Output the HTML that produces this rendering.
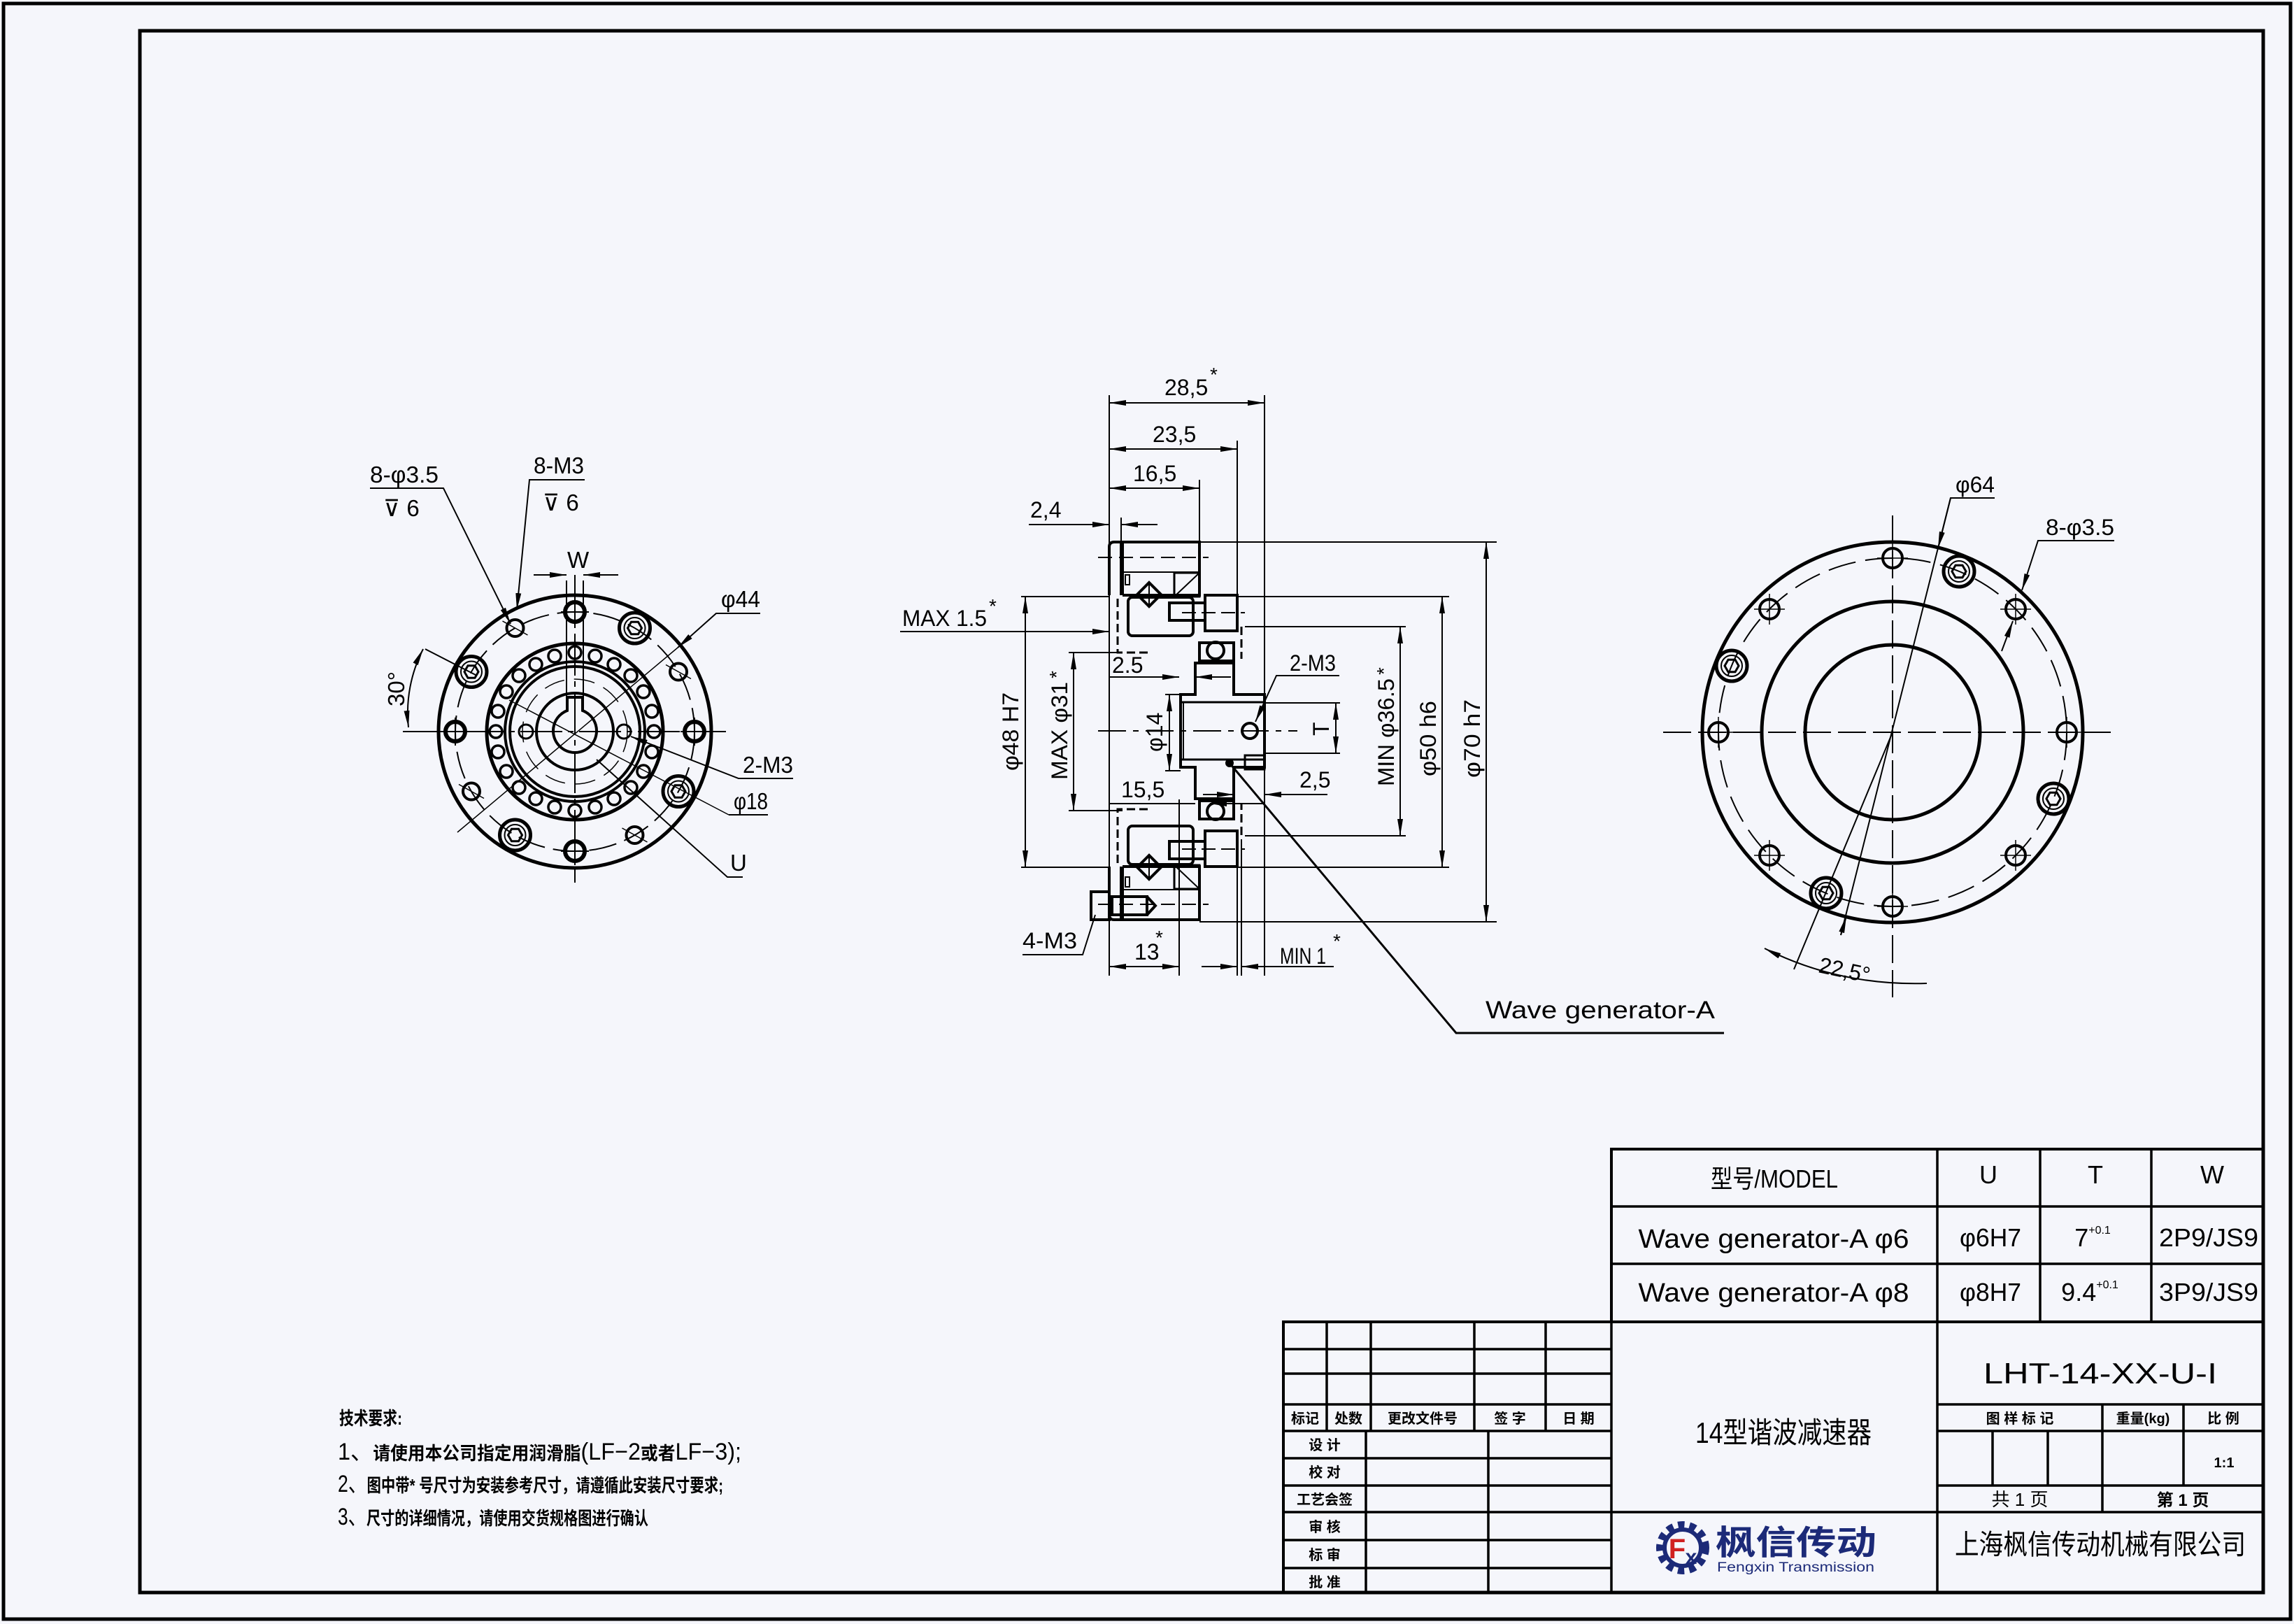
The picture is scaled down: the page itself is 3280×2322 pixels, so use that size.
<!DOCTYPE html>
<html><head><meta charset="utf-8"><style>
html,body{margin:0;padding:0;background:#f5f6fb;}
svg{display:block;}
text{font-family:"Liberation Sans Narrow","Liberation Sans","Noto Sans CJK SC",sans-serif;fill:#000;}
.cj{font-family:"Liberation Sans","Noto Sans CJK SC",sans-serif;}
</style></head><body>
<svg width="3280" height="2322" viewBox="0 0 3280 2322" xmlns="http://www.w3.org/2000/svg">
<defs>
<marker id="ar" viewBox="0 0 24 8" refX="24" refY="4" markerWidth="24" markerHeight="8" markerUnits="userSpaceOnUse" orient="auto-start-reverse"><path d="M0,0 L24,4 L0,8 z" fill="#000"/></marker>
<g id="thk"><circle r="14" fill="none" stroke="#000" stroke-width="6"/><line x1="-20" y1="0" x2="20" y2="0" stroke="#000" stroke-width="2"/><line x1="0" y1="-20" x2="0" y2="20" stroke="#000" stroke-width="2"/></g>
<g id="thn"><circle r="12" fill="none" stroke="#000" stroke-width="4"/><line x1="-18" y1="-10" x2="18" y2="10" stroke="#000" stroke-width="1.5"/></g>
<g id="hx"><circle r="22" fill="none" stroke="#000" stroke-width="5"/><circle r="15" fill="none" stroke="#000" stroke-width="2"/><polygon points="10,0 5,8.7 -5,8.7 -10,0 -5,-8.7 5,-8.7" fill="none" stroke="#000" stroke-width="3"/></g>
<g id="pl"><circle r="14" fill="none" stroke="#000" stroke-width="4"/><line x1="-22" y1="0" x2="22" y2="0" stroke="#000" stroke-width="1.5"/><line x1="0" y1="-22" x2="0" y2="22" stroke="#000" stroke-width="1.5"/></g>
</defs>
<rect width="3280" height="2322" fill="#f5f6fb"/>
<!-- frames -->
<rect x="5" y="5" width="3270" height="2310" fill="none" stroke="#000" stroke-width="5"/>
<rect x="200" y="44" width="3036" height="2233" fill="none" stroke="#000" stroke-width="5"/>

<!-- ========== LEFT VIEW ========== -->
<g stroke="#000" fill="none">
<circle cx="822" cy="1046" r="195" stroke-width="5"/>
<circle cx="822" cy="1046" r="171" stroke-width="2" stroke-dasharray="40 12"/>
<circle cx="822" cy="1046" r="126" stroke-width="5"/>
<circle cx="822" cy="1046" r="100" stroke-width="4"/>
<circle cx="822" cy="1046" r="93" stroke-width="4"/>
<circle cx="822" cy="1046" r="55" stroke-width="4"/>
<circle cx="822" cy="1046" r="75" stroke-width="1.5" stroke-dasharray="30 14"/>
<path d="M811,1016 L811,997 L833,997 L833,1016 A31,31 0 1 1 811,1016 Z" stroke-width="4"/>
<circle cx="752" cy="1046" r="10" stroke-width="3"/><circle cx="892" cy="1046" r="10" stroke-width="3"/>
<line x1="576" y1="1046" x2="1038" y2="1046" stroke-width="2" stroke-dasharray="60 8 8 8"/>
<line x1="822" y1="822" x2="822" y2="1262" stroke-width="2" stroke-dasharray="60 8 8 8"/>
<line x1="810" y1="830" x2="810" y2="1000" stroke-width="2"/><line x1="834" y1="830" x2="834" y2="1000" stroke-width="2"/>
<line x1="654" y1="1190" x2="969" y2="926" stroke-width="1.5"/>
<line x1="728" y1="1001" x2="1042" y2="1165" stroke-width="1.5"/>
</g>
<g stroke="#000" stroke-width="3.5" fill="none">
<circle cx="822" cy="933" r="9"/><circle cx="851" cy="938" r="9"/><circle cx="878" cy="950" r="9"/><circle cx="902" cy="966" r="9"/><circle cx="920" cy="989" r="9"/><circle cx="932" cy="1017" r="9"/><circle cx="935" cy="1046" r="9"/><circle cx="932" cy="1075" r="9"/><circle cx="920" cy="1103" r="9"/><circle cx="902" cy="1126" r="9"/><circle cx="878" cy="1142" r="9"/><circle cx="851" cy="1154" r="9"/><circle cx="822" cy="1159" r="9"/><circle cx="793" cy="1154" r="9"/><circle cx="766" cy="1142" r="9"/><circle cx="742" cy="1126" r="9"/><circle cx="724" cy="1103" r="9"/><circle cx="712" cy="1075" r="9"/><circle cx="709" cy="1046" r="9"/><circle cx="712" cy="1017" r="9"/><circle cx="724" cy="989" r="9"/><circle cx="742" cy="966" r="9"/><circle cx="766" cy="950" r="9"/><circle cx="793" cy="938" r="9"/>
</g>
<use href="#thk" x="822" y="875"/><use href="#hx" x="907.5" y="898"/><use href="#thn" x="970" y="960.5"/>
<use href="#thk" x="993" y="1046"/><use href="#hx" x="970" y="1131.5"/><use href="#thn" x="907.5" y="1194"/>
<use href="#thk" x="822" y="1217"/><use href="#hx" x="736.5" y="1194"/><use href="#thn" x="674" y="1131.5"/>
<use href="#thk" x="651" y="1046"/><use href="#hx" x="674" y="960.5"/><use href="#thn" x="736.5" y="898"/>
<!-- left view labels -->
<g stroke="#000" stroke-width="2" fill="none">
<polyline points="529,698 634,698 730,892" marker-end="url(#ar)"/>
<polyline points="836,686 757,686 739,872" marker-end="url(#ar)"/>
<line x1="763" y1="822" x2="810" y2="822" marker-end="url(#ar)"/><line x1="884" y1="822" x2="834" y2="822" marker-end="url(#ar)"/>
<polyline points="1087,877 1024,877 969,926" marker-end="url(#ar)"/>
<polyline points="1134,1113 1056,1113 902,1053" marker-end="url(#ar)"/>
<polyline points="1098,1165 1042,1165"/>
<polyline points="1062,1254 1040,1254 853,1086"/>
<path d="M605,928 A200,200 0 0 0 584,1040" marker-start="url(#ar)" marker-end="url(#ar)"/>
<line x1="608" y1="928" x2="680" y2="965"/>
</g>
<g font-size="33">
<text x="529" y="690" textLength="98" lengthAdjust="spacingAndGlyphs">8-φ3.5</text>
<text x="548" y="738">⊽ 6</text>
<text x="763" y="677" textLength="72" lengthAdjust="spacingAndGlyphs">8-M3</text>
<text x="776" y="730">⊽ 6</text>
<text x="811" y="812">W</text>
<text x="1031" y="868" textLength="56" lengthAdjust="spacingAndGlyphs">φ44</text>
<text x="1062" y="1105" textLength="72" lengthAdjust="spacingAndGlyphs">2-M3</text>
<text x="1049" y="1157" textLength="49" lengthAdjust="spacingAndGlyphs">φ18</text>
<text x="1044" y="1245">U</text>
<text transform="translate(578,1010) rotate(-90)">30°</text>
</g>

<!-- ========== MIDDLE VIEW ========== -->
<g id="half" stroke="#000" stroke-width="4" fill="none">
<path d="M1586,851 L1586,782 Q1586,775 1593,775 L1603,775 L1603,851"/>
<path d="M1605,851 L1605,775 L1715,775 L1715,851 L1605,851"/>
<line x1="1605" y1="818" x2="1715" y2="818" stroke-width="2"/>
<line x1="1570" y1="797" x2="1728" y2="797" stroke-width="2" stroke-dasharray="20 10"/>
<rect x="1613" y="854" width="93" height="55" rx="6"/>
<rect x="1672" y="862" width="51" height="25"/>
<rect x="1723" y="851" width="46" height="51"/>
<polygon points="1643,833 1660,850 1643,867 1626,850"/>
<line x1="1643" y1="833" x2="1643" y2="867" stroke-width="2"/><line x1="1626" y1="850" x2="1660" y2="850" stroke-width="2"/>
<rect x="1679" y="819" width="36" height="34" stroke-width="3"/><line x1="1679" y1="853" x2="1715" y2="819" stroke-width="2"/>
<rect x="1609" y="822" width="6" height="14" stroke-width="2"/>
<rect x="1715" y="919" width="49" height="26"/><circle cx="1738" cy="930" r="12"/>
<path d="M1688,1045 L1688,993 L1709,993 L1709,948 L1764,948 L1764,993 L1808,993 L1808,1045"/>
<line x1="1688" y1="1004" x2="1808" y2="1004" stroke-width="3"/>
<line x1="1692" y1="1004" x2="1692" y2="1045" stroke-width="2"/>
<path d="M1598,856 L1598,933 L1643,933" stroke-width="3" stroke-dasharray="12 6"/>
<line x1="1775" y1="896" x2="1775" y2="942" stroke-width="3" stroke-dasharray="12 6"/>
<line x1="1690" y1="876" x2="1780" y2="876" stroke-width="2" stroke-dasharray="20 8"/>
</g>
<use href="#half" transform="matrix(1 0 0 -1 0 2090)"/>
<g stroke="#000" stroke-width="4" fill="none">
<rect x="1560" y="1275" width="26" height="40"/><rect x="1590" y="1282" width="50" height="26"/><path d="M1640,1282 L1652,1295 L1640,1308"/>
<circle cx="1787" cy="1045" r="11"/>
<rect x="1780" y="1080" width="28" height="20" stroke-width="3"/>
<circle cx="1758" cy="1091" r="4" fill="#000"/>
</g>
<g stroke="#000" stroke-width="2" fill="none">
<!-- extension lines -->
<line x1="1586" y1="565" x2="1586" y2="1395"/><line x1="1808" y1="565" x2="1808" y2="1395"/>
<line x1="1769" y1="630" x2="1769" y2="851"/><line x1="1715" y1="686" x2="1715" y2="775"/>
<line x1="1603" y1="740" x2="1603" y2="775"/>
<line x1="1686" y1="1143" x2="1686" y2="1395"/><line x1="1769" y1="1200" x2="1769" y2="1395"/><line x1="1775" y1="1200" x2="1775" y2="1395"/>
<line x1="1715" y1="775" x2="2140" y2="775"/><line x1="1715" y1="1318" x2="2140" y2="1318"/>
<line x1="1769" y1="853" x2="2072" y2="853"/><line x1="1769" y1="1240" x2="2072" y2="1240"/>
<line x1="1780" y1="896" x2="2010" y2="896"/><line x1="1780" y1="1195" x2="2010" y2="1195"/>
<line x1="1460" y1="853" x2="1586" y2="853"/><line x1="1460" y1="1240" x2="1586" y2="1240"/>
<line x1="1528" y1="933" x2="1605" y2="933"/><line x1="1528" y1="1159" x2="1605" y2="1159"/>
<line x1="1666" y1="993" x2="1688" y2="993"/><line x1="1666" y1="1102" x2="1688" y2="1102"/>
<line x1="1808" y1="1005" x2="1916" y2="1005"/><line x1="1808" y1="1077" x2="1916" y2="1077"/>
<line x1="1570" y1="1045" x2="1855" y2="1045" stroke-dasharray="40 10 8 10"/>
<!-- dims -->
<line x1="1586" y1="576" x2="1808" y2="576" marker-start="url(#ar)" marker-end="url(#ar)"/>
<line x1="1586" y1="642" x2="1769" y2="642" marker-start="url(#ar)" marker-end="url(#ar)"/>
<line x1="1586" y1="698" x2="1715" y2="698" marker-start="url(#ar)" marker-end="url(#ar)"/>
<line x1="1471" y1="750" x2="1586" y2="750" marker-end="url(#ar)"/><line x1="1655" y1="750" x2="1603" y2="750" marker-end="url(#ar)"/>
<line x1="2125" y1="775" x2="2125" y2="1318" marker-start="url(#ar)" marker-end="url(#ar)"/>
<line x1="2062" y1="853" x2="2062" y2="1240" marker-start="url(#ar)" marker-end="url(#ar)"/>
<line x1="2002" y1="896" x2="2002" y2="1195" marker-start="url(#ar)" marker-end="url(#ar)"/>
<line x1="1466" y1="853" x2="1466" y2="1240" marker-start="url(#ar)" marker-end="url(#ar)"/>
<line x1="1535" y1="933" x2="1535" y2="1159" marker-start="url(#ar)" marker-end="url(#ar)"/>
<line x1="1672" y1="993" x2="1672" y2="1102" marker-start="url(#ar)" marker-end="url(#ar)"/>
<line x1="1910" y1="1005" x2="1910" y2="1077" marker-start="url(#ar)" marker-end="url(#ar)"/>
<line x1="1287" y1="903" x2="1586" y2="903" marker-end="url(#ar)"/>
<line x1="1586" y1="968" x2="1686" y2="968" marker-end="url(#ar)"/><line x1="1760" y1="968" x2="1709" y2="968" marker-end="url(#ar)"/>
<line x1="1720" y1="1136" x2="1764" y2="1136" marker-end="url(#ar)"/><line x1="1898" y1="1136" x2="1808" y2="1136" marker-end="url(#ar)"/>
<line x1="1586" y1="1149" x2="1709" y2="1149"/><line x1="1730" y1="1149" x2="1808" y2="1149" marker-start="url(#ar)"/>
<line x1="1586" y1="1382" x2="1686" y2="1382" marker-start="url(#ar)" marker-end="url(#ar)"/>
<line x1="1718" y1="1382" x2="1769" y2="1382" marker-end="url(#ar)"/><line x1="1907" y1="1382" x2="1775" y2="1382" marker-end="url(#ar)"/>
<polyline points="1915,966 1825,966 1795,1032" marker-end="url(#ar)"/>
<polyline points="1462,1365 1548,1365 1566,1308"/>
<polyline points="1758,1091 2082,1477 2465,1477" stroke-width="3"/>
</g>
<g font-size="32">
<text x="1665" y="565">28,5</text><text x="1730" y="545" font-size="28">*</text>
<text x="1648" y="632">23,5</text>
<text x="1620" y="688">16,5</text>
<text x="1473" y="740">2,4</text>
<text x="1290" y="895" textLength="121" lengthAdjust="spacingAndGlyphs">MAX 1.5</text><text x="1414" y="876" font-size="28">*</text>
<text x="1590" y="962">2.5</text>
<text x="1603" y="1140">15,5</text>
<text x="1858" y="1126">2,5</text>
<text x="1844" y="959" textLength="66" lengthAdjust="spacingAndGlyphs">2-M3</text>
<text x="1462" y="1356" textLength="78" lengthAdjust="spacingAndGlyphs">4-M3</text>
<text x="1622" y="1372">13</text><text x="1652" y="1350" font-size="28">*</text>
<text x="1830" y="1378" textLength="66" lengthAdjust="spacingAndGlyphs">MIN 1</text><text x="1906" y="1355" font-size="28">*</text>
<text transform="translate(1456,1102) rotate(-90)" textLength="112" lengthAdjust="spacingAndGlyphs">φ48 H7</text>
<text transform="translate(1526,1115) rotate(-90)" textLength="140" lengthAdjust="spacingAndGlyphs">MAX φ31</text><text transform="translate(1520,970) rotate(-90)" font-size="28">*</text>
<text transform="translate(1662,1075) rotate(-90)">φ14</text>
<text transform="translate(1900,1052) rotate(-90)">T</text>
<text transform="translate(1993,1124) rotate(-90)" textLength="154" lengthAdjust="spacingAndGlyphs">MIN φ36.5</text><text transform="translate(1988,965) rotate(-90)" font-size="28">*</text>
<text transform="translate(2053,1110) rotate(-90)" textLength="108" lengthAdjust="spacingAndGlyphs">φ50 h6</text>
<text transform="translate(2116,1112) rotate(-90)" textLength="112" lengthAdjust="spacingAndGlyphs">φ70 h7</text>
<text x="2124" y="1456" font-size="35" textLength="328" lengthAdjust="spacingAndGlyphs">Wave generator-A</text>
</g>

<!-- ========== RIGHT VIEW ========== -->
<g stroke="#000" fill="none">
<circle cx="2706" cy="1047" r="272" stroke-width="5"/>
<circle cx="2706" cy="1047" r="187" stroke-width="5"/>
<circle cx="2706" cy="1047" r="125" stroke-width="5"/>
<circle cx="2706" cy="1047" r="249" stroke-width="2" stroke-dasharray="40 14"/>
<line x1="2378" y1="1047" x2="3019" y2="1047" stroke-width="2" stroke-dasharray="40 10"/>
<line x1="2706" y1="737" x2="2706" y2="1426" stroke-width="2" stroke-dasharray="40 10"/>
</g>
<use href="#pl" x="2706" y="798"/><use href="#pl" x="2882" y="871"/><use href="#pl" x="2955" y="1047"/><use href="#pl" x="2882" y="1223"/>
<use href="#pl" x="2706" y="1296"/><use href="#pl" x="2530" y="1223"/><use href="#pl" x="2457" y="1047"/><use href="#pl" x="2530" y="871"/>
<use href="#hx" x="2801" y="817"/><use href="#hx" x="2936" y="1142"/><use href="#hx" x="2611" y="1277"/><use href="#hx" x="2476" y="952"/>
<g stroke="#000" stroke-width="2" fill="none">
<polyline points="2852,712 2789,712 2632,1337"/>
<line x1="2789" y1="712" x2="2771" y2="784" marker-end="url(#ar)"/>
<line x1="2632" y1="1337" x2="2640" y2="1310" marker-end="url(#ar)"/>
<polyline points="3023,773 2914,773 2891,844" marker-end="url(#ar)"/>
<line x1="2862" y1="931" x2="2878" y2="888" marker-end="url(#ar)"/>
<line x1="2706" y1="1047" x2="2565" y2="1386"/>
<path d="M2523,1356 Q2630,1410 2755,1406" marker-start="url(#ar)"/>
</g>
<g font-size="32">
<text x="2796" y="704" textLength="56" lengthAdjust="spacingAndGlyphs">φ64</text>
<text x="2925" y="765" textLength="98" lengthAdjust="spacingAndGlyphs">8-φ3.5</text>
<text transform="translate(2599,1390) rotate(12)" textLength="74" lengthAdjust="spacingAndGlyphs">22,5°</text>
</g>

<!-- ========== NOTES ========== -->
<g class="cj">
<text x="485" y="2037" font-size="26" font-weight="bold" textLength="90" lengthAdjust="spacingAndGlyphs" class="cj">技术要求:</text>
<text x="483" y="2087" font-size="34" textLength="577" lengthAdjust="spacingAndGlyphs" class="cj">1、<tspan font-weight="bold" font-size="26">请使用本公司指定用润滑脂</tspan>(LF−2<tspan font-weight="bold" font-size="26">或者</tspan>LF−3);</text>
<text x="483" y="2133" font-size="34" textLength="551" lengthAdjust="spacingAndGlyphs" class="cj">2、<tspan font-weight="bold" font-size="26">图中带* 号尺寸为安装参考尺寸，请遵循此安装尺寸要求;</tspan></text>
<text x="483" y="2180" font-size="34" textLength="444" lengthAdjust="spacingAndGlyphs" class="cj">3、<tspan font-weight="bold" font-size="26">尺寸的详细情况，请使用交货规格图进行确认</tspan></text>
</g>

<!-- ========== TITLE BLOCK ========== -->
<g stroke="#000" stroke-width="3.5" fill="none">
<rect x="2304" y="1643" width="932" height="247" stroke-width="4"/>
<line x1="2304" y1="1725" x2="3236" y2="1725"/><line x1="2304" y1="1807" x2="3236" y2="1807"/>
<line x1="2770" y1="1643" x2="2770" y2="2277"/><line x1="2917" y1="1643" x2="2917" y2="1890"/><line x1="3076" y1="1643" x2="3076" y2="1890"/>
<rect x="1835" y="1890" width="1401" height="387" stroke-width="4"/>
<line x1="2304" y1="1890" x2="2304" y2="2277"/>
<line x1="1835" y1="1929" x2="2304" y2="1929"/><line x1="1835" y1="1964" x2="2304" y2="1964"/>
<line x1="1835" y1="2008" x2="2304" y2="2008"/><line x1="1835" y1="2046" x2="2304" y2="2046"/>
<line x1="1897" y1="1890" x2="1897" y2="2046"/><line x1="1960" y1="1890" x2="1960" y2="2046"/><line x1="2108" y1="1890" x2="2108" y2="2046"/><line x1="2210" y1="1890" x2="2210" y2="2046"/>
<line x1="1835" y1="2085" x2="2304" y2="2085"/><line x1="1835" y1="2124" x2="2304" y2="2124"/><line x1="1835" y1="2162" x2="2304" y2="2162"/><line x1="1835" y1="2202" x2="2304" y2="2202"/><line x1="1835" y1="2242" x2="2304" y2="2242"/>
<line x1="1953" y1="2046" x2="1953" y2="2277"/><line x1="2128" y1="2046" x2="2128" y2="2277"/>
<line x1="2304" y1="2162" x2="3236" y2="2162"/>
<line x1="2770" y1="2008" x2="3236" y2="2008"/><line x1="2770" y1="2046" x2="3236" y2="2046"/><line x1="2770" y1="2124" x2="3236" y2="2124"/>
<line x1="3006" y1="2008" x2="3006" y2="2162"/><line x1="3122" y1="2008" x2="3122" y2="2124"/>
<line x1="2849" y1="2046" x2="2849" y2="2124"/><line x1="2928" y1="2046" x2="2928" y2="2124"/>
</g>
<g font-size="36" text-anchor="middle">
<text x="2537" y="1698" textLength="182" lengthAdjust="spacingAndGlyphs" class="cj">型号/MODEL</text>
<text x="2843" y="1692">U</text><text x="2996" y="1692">T</text><text x="3163" y="1692">W</text>
<text x="2536" y="1784" font-size="38" textLength="387" lengthAdjust="spacingAndGlyphs">Wave generator-A φ6</text>
<text x="2536" y="1861" font-size="38" textLength="387" lengthAdjust="spacingAndGlyphs">Wave generator-A φ8</text>
<text x="2846" y="1782" textLength="88" lengthAdjust="spacingAndGlyphs">φ6H7</text>
<text x="2846" y="1860" textLength="88" lengthAdjust="spacingAndGlyphs">φ8H7</text>
<text x="2992" y="1782">7<tspan font-size="16" dy="-18">+0.1</tspan></text>
<text x="2988" y="1860">9.4<tspan font-size="16" dy="-18">+0.1</tspan></text>
<text x="3158" y="1782" textLength="142" lengthAdjust="spacingAndGlyphs">2P9/JS9</text>
<text x="3158" y="1860" textLength="142" lengthAdjust="spacingAndGlyphs">3P9/JS9</text>
<text x="3003" y="1978" font-size="42" textLength="334" lengthAdjust="spacingAndGlyphs">LHT-14-XX-U-I</text>
<text x="2550" y="2063" font-size="42" textLength="252" lengthAdjust="spacingAndGlyphs" class="cj">14型谐波减速器</text>
<g font-size="20" font-weight="bold" class="cj">
<text x="1866" y="2035" class="cj">标记</text><text x="1928" y="2035" class="cj">处数</text><text x="2034" y="2035" class="cj">更改文件号</text><text x="2159" y="2035" class="cj">签 字</text><text x="2257" y="2035" class="cj">日 期</text>
<text x="1894" y="2073" class="cj">设 计</text><text x="1894" y="2112" class="cj">校 对</text><text x="1894" y="2151" class="cj">工艺会签</text><text x="1894" y="2190" class="cj">审 核</text><text x="1894" y="2230" class="cj">标 审</text><text x="1894" y="2269" class="cj">批 准</text>
<text x="2888" y="2035" class="cj">图 样 标 记</text><text x="3064" y="2035" class="cj">重量(kg)</text><text x="3179" y="2035" class="cj">比 例</text>
<text x="3180" y="2098">1:1</text>
</g>
<text x="2888" y="2153" font-size="26" class="cj">共 1 页</text>
<text x="3121" y="2153" font-size="24" font-weight="bold" class="cj">第 1 页</text>
<text x="3003" y="2222" font-size="40" textLength="416" lengthAdjust="spacingAndGlyphs" class="cj">上海枫信传动机械有限公司</text>
</g>
<!-- logo -->
<g>
<circle cx="2406" cy="2213" r="32" fill="none" stroke="#1c2a78" stroke-width="12" stroke-dasharray="9 7"/>
<circle cx="2406" cy="2213" r="26" fill="none" stroke="#1c2a78" stroke-width="6"/>
<text x="2398" y="2228" font-size="40" font-weight="bold" fill="#d02020" style="fill:#d02020" text-anchor="middle">F</text>
<text x="2418" y="2236" font-size="30" font-weight="bold" style="fill:#1c2a78" text-anchor="middle">x</text>
<text x="2453" y="2222" font-size="48" font-weight="bold" style="fill:#1c2a78" textLength="230" lengthAdjust="spacingAndGlyphs" class="cj">枫信传动</text>
<text x="2455" y="2247" font-size="19" style="fill:#1c2a78" textLength="225" lengthAdjust="spacingAndGlyphs">Fengxin Transmission</text>
</g>
</svg>
</body></html>
